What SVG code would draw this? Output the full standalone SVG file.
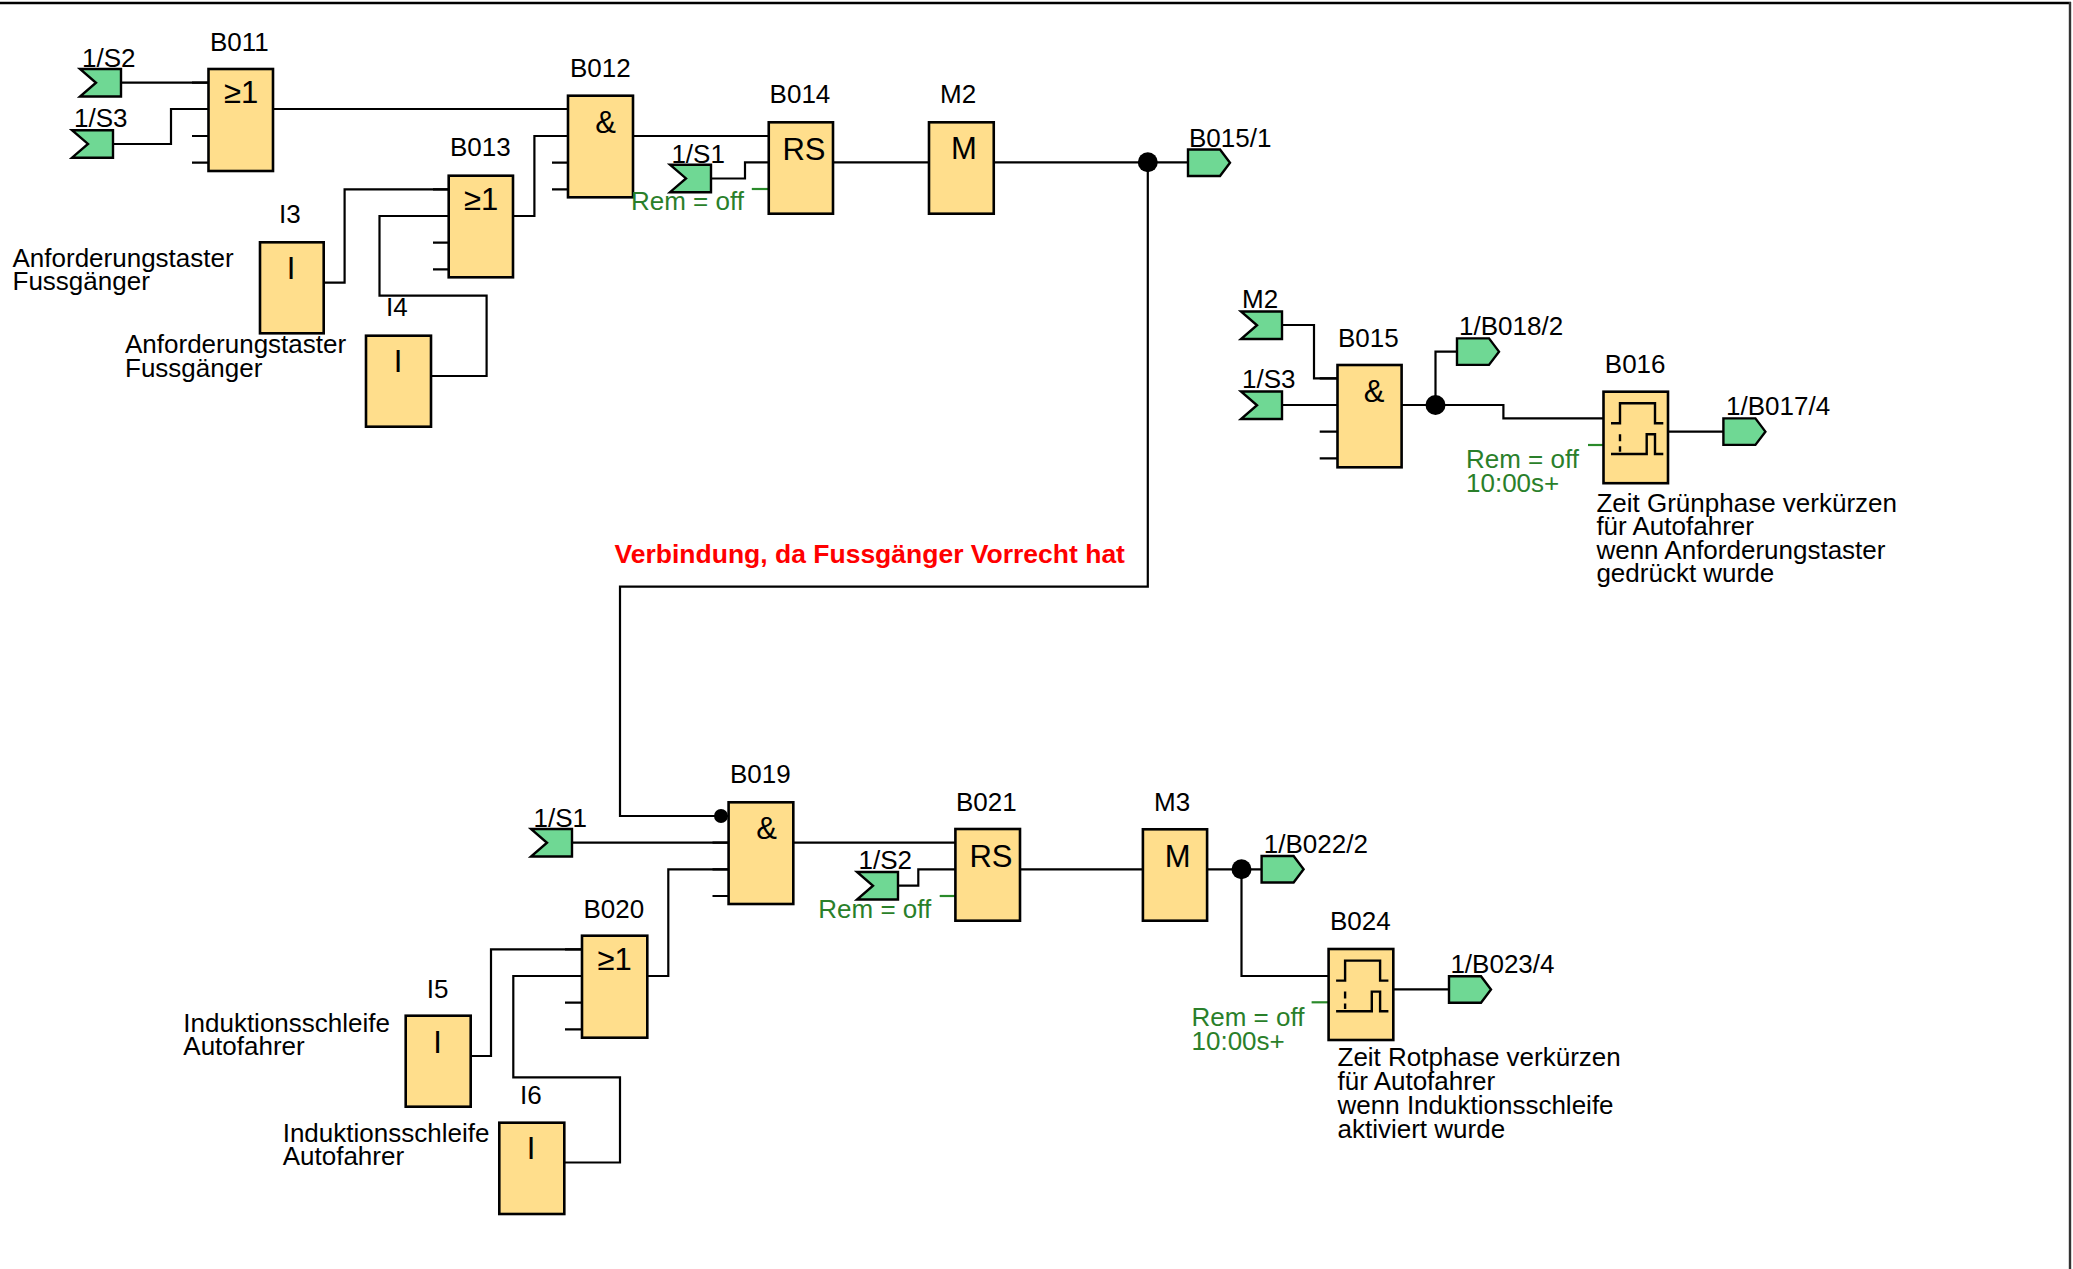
<svg xmlns="http://www.w3.org/2000/svg" xmlns:xlink="http://www.w3.org/1999/xlink" width="2073" height="1269" viewBox="0 0 2073 1269">
<style>
.box{fill:#FFDE8C;stroke:#000;stroke-width:2.6}
.flag{fill:#6FD894;stroke:#000;stroke-width:2.4}
.w{fill:none;stroke:#000;stroke-width:2.2}
.gp{fill:none;stroke:#2A8A2A;stroke-width:2.2}
.ts{fill:none;stroke:#000;stroke-width:2.4}
text{font-family:"Liberation Sans",Arial,Helvetica,sans-serif;font-size:26px;fill:#000}
.sym{font-size:31px}
.rem{fill:#2A7F2A}
.red{fill:#FF0000;font-weight:bold;font-size:26.5px}
</style>
<defs>
<path id="fin" class="flag" d="M0,0 H41 V27.5 H0 L16,13.75 Z"/>
<path id="fout" class="flag" d="M0,0 H32 L42,13.25 L32,26.5 H0 Z"/>
<g id="timer">
<path class="ts" d="M7.5,31.6 H16.5 V11.6 H51.5 V31.6 H59.8 M7.5,62.3 H43.2 V42.6 H51.5 V62.3 H59.8"/>
<path class="ts" d="M16.5,42.6 V60" stroke-dasharray="7,5"/>
</g>
</defs>
<rect width="2073" height="1269" fill="#fff"/>
<line x1="0" y1="3" x2="2071" y2="3" stroke="#000" stroke-width="2.6"/>
<line x1="2070" y1="2" x2="2070" y2="1269" stroke="#333" stroke-width="2.4"/>

<g id="connectors">
<path class="w" d="M121,82.7 H208.5"/>
<path class="w" d="M113,144 H171 V109 H208.5"/>
<path class="w" d="M273,109 H568"/>
<path class="w" d="M513,216 H534.4 V136 H568"/>
<path class="w" d="M323.7,282.7 H344.6 V189.3 H448.7"/>
<path class="w" d="M431,376 H486.6 V295.7 H379.5 V216 H448.7"/>
<path class="w" d="M633,136 H768.75"/>
<path class="w" d="M710.7,178.5 H745 V162.3 H768.75"/>
<path class="w" d="M833,162.3 H929"/>
<path class="w" d="M993.75,162.3 H1188"/>
<path class="w" d="M1147.8,162.3 V586.7 H620 V816 H728.6"/>
<path class="w" d="M1282,325 H1314 V378.3 H1337.5"/>
<path class="w" d="M1282,405 H1337.5"/>
<path class="w" d="M1401.6,405 H1503.4 V418.3 H1603.5"/>
<path class="w" d="M1435.5,405 V351.7 H1457"/>
<path class="w" d="M1668,431.7 H1723.4"/>
<path class="w" d="M572,842.7 H728.6"/>
<path class="w" d="M647.3,976 H668.3 V869.3 H728.6"/>
<path class="w" d="M470.7,1056 H491 V949.3 H582"/>
<path class="w" d="M564.3,1162.5 H620 V1077.3 H513.3 V976 H582"/>
<path class="w" d="M793.3,842.7 H955.4"/>
<path class="w" d="M897.3,885.7 H918.3 V869.3 H955.4"/>
<path class="w" d="M1020,869.3 H1142.9"/>
<path class="w" d="M1207.1,869.3 H1261.6"/>
<path class="w" d="M1241.5,869.3 V976 H1328.6"/>
<path class="w" d="M1393.3,989.3 H1449"/>
<circle cx="1147.8" cy="162.3" r="10" fill="#000"/>
<circle cx="1435.5" cy="405" r="10" fill="#000"/>
<circle cx="1241.5" cy="869.3" r="10" fill="#000"/>
<circle cx="721" cy="816" r="7" fill="#000"/>
</g>

<g id="in-1S2-top"><use xlink:href="#fin" x="80" y="69"/><text x="82" y="66.7">1/S2</text></g>
<g id="in-1S3-top"><use xlink:href="#fin" x="72" y="130.2"/><text x="74" y="127.3">1/S3</text></g>
<g id="in-1S1-top"><use xlink:href="#fin" x="670" y="164.7"/><text x="671.4" y="162.7">1/S1</text></g>
<g id="in-M2"><use xlink:href="#fin" x="1241" y="311.5"/><text x="1242" y="308.3">M2</text></g>
<g id="in-1S3-b015"><use xlink:href="#fin" x="1241" y="391.5"/><text x="1242" y="388.3">1/S3</text></g>
<g id="in-1S1-bottom"><use xlink:href="#fin" x="531" y="829"/><text x="533.5" y="826.7">1/S1</text></g>
<g id="in-1S2-bottom"><use xlink:href="#fin" x="857" y="872"/><text x="858.5" y="869.3">1/S2</text></g>

<g id="out-B015-1"><use xlink:href="#fout" x="1188" y="149.5"/><text x="1189" y="146.7">B015/1</text></g>
<g id="out-1B018-2"><use xlink:href="#fout" x="1457" y="338.4"/><text x="1459" y="335">1/B018/2</text></g>
<g id="out-1B017-4"><use xlink:href="#fout" x="1723.4" y="418.4"/><text x="1726" y="415">1/B017/4</text></g>
<g id="out-1B022-2"><use xlink:href="#fout" x="1261.6" y="856"/><text x="1263.8" y="852.7">1/B022/2</text></g>
<g id="out-1B023-4"><use xlink:href="#fout" x="1449" y="976.2"/><text x="1450.4" y="972.7">1/B023/4</text></g>

<g id="B011">
<path class="w" d="M192,82.7 H208.5 M192,109 H208.5 M192,136 H208.5 M192,162.7 H208.5"/>
<rect class="box" x="208.5" y="69" width="64.5" height="102"/>
<text x="210" y="50.7">B011</text>
<text class="sym" x="224" y="103">≥1</text>
</g>
<g id="B012">
<path class="w" d="M552,109 H568 M552,136 H568 M552,162.7 H568 M552,189.3 H568"/>
<rect class="box" x="568" y="95.7" width="65" height="101.6"/>
<text x="570" y="76.7">B012</text>
<text class="sym" x="605.5" y="133" text-anchor="middle">&amp;</text>
</g>
<g id="B013">
<path class="w" d="M433,189.3 H448.7 M433,216 H448.7 M433,242.7 H448.7 M433,269.3 H448.7"/>
<rect class="box" x="448.7" y="175.7" width="64.3" height="101.6"/>
<text x="450" y="156">B013</text>
<text class="sym" x="464" y="210">≥1</text>
</g>
<g id="I3">
<rect class="box" x="260" y="242.3" width="63.7" height="91"/>
<text x="279" y="223.3">I3</text>
<text class="sym" x="291" y="279" text-anchor="middle">I</text>
<text x="12.5" y="266.7">Anforderungstaster<tspan x="12.5" dy="23.3">Fussgänger</tspan></text>
</g>
<g id="I4">
<rect class="box" x="366" y="335.7" width="65" height="91"/>
<text x="386" y="316">I4</text>
<text class="sym" x="398" y="372" text-anchor="middle">I</text>
<text x="125" y="353.3">Anforderungstaster<tspan x="125" dy="24">Fussgänger</tspan></text>
</g>
<g id="B014">
<path class="gp" d="M751.8,189 H768.75"/>
<rect class="box" x="768.75" y="122.3" width="64.25" height="91.4"/>
<text x="769.6" y="103.3">B014</text>
<text class="sym" x="804" y="160" text-anchor="middle">RS</text>
<text class="rem" x="631" y="210">Rem = off</text>
</g>
<g id="M2">
<rect class="box" x="929" y="122.3" width="64.75" height="91.4"/>
<text x="940" y="103.3">M2</text>
<text class="sym" x="963.8" y="159.3" text-anchor="middle">M</text>
</g>
<g id="B015">
<path class="w" d="M1319.7,378.3 H1337.5 M1319.7,405 H1337.5 M1319.7,431.7 H1337.5 M1319.7,458.3 H1337.5"/>
<rect class="box" x="1337.5" y="365" width="64.1" height="102.3"/>
<text x="1338" y="346.7">B015</text>
<text class="sym" x="1374" y="402" text-anchor="middle">&amp;</text>
</g>
<g id="B016">
<path class="gp" d="M1588,445 H1603.5"/>
<rect class="box" x="1603.5" y="391.7" width="64.5" height="91.5"/>
<use xlink:href="#timer" x="1603.5" y="391.7"/>
<text x="1604.8" y="372.7">B016</text>
<text class="rem" x="1466" y="468.3">Rem = off<tspan x="1466" dy="23.4">10:00s+</tspan></text>
<text x="1596.4" y="511.7">Zeit Grünphase verkürzen<tspan x="1596.4" dy="23.4">für Autofahrer</tspan><tspan x="1596.4" dy="23.8">wenn Anforderungstaster</tspan><tspan x="1596.4" dy="23.4">gedrückt wurde</tspan></text>
</g>
<g id="note">
<text class="red" x="614.5" y="562.7">Verbindung, da Fussgänger Vorrecht hat</text>
</g>
<g id="B019">
<path class="w" d="M712.5,816 H728.6 M712.5,842.7 H728.6 M712.5,869.3 H728.6 M712.5,896 H728.6"/>
<rect class="box" x="728.6" y="802.3" width="64.7" height="101.7"/>
<text x="730" y="783.3">B019</text>
<text class="sym" x="766.5" y="839" text-anchor="middle">&amp;</text>
</g>
<g id="B020">
<path class="w" d="M565,949.3 H582 M565,976 H582 M565,1002.7 H582 M565,1029.3 H582"/>
<rect class="box" x="582" y="935.7" width="65.3" height="102"/>
<text x="583.5" y="917.7">B020</text>
<text class="sym" x="597.5" y="970">≥1</text>
</g>
<g id="I5">
<rect class="box" x="405.7" y="1015.7" width="65" height="91"/>
<text x="426.7" y="998.3">I5</text>
<text class="sym" x="437.5" y="1053.3" text-anchor="middle">I</text>
<text x="183.3" y="1031.7">Induktionsschleife<tspan x="183.3" dy="23.3">Autofahrer</tspan></text>
</g>
<g id="I6">
<rect class="box" x="499.3" y="1122.7" width="65" height="91.3"/>
<text x="520" y="1104">I6</text>
<text class="sym" x="531" y="1159.3" text-anchor="middle">I</text>
<text x="282.7" y="1141.7">Induktionsschleife<tspan x="282.7" dy="23.3">Autofahrer</tspan></text>
</g>
<g id="B021">
<path class="gp" d="M939.7,896 H955.4"/>
<rect class="box" x="955.4" y="829" width="64.6" height="91.7"/>
<text x="956" y="810.7">B021</text>
<text class="sym" x="991" y="866.7" text-anchor="middle">RS</text>
<text class="rem" x="818.3" y="917.7">Rem = off</text>
</g>
<g id="M3">
<rect class="box" x="1142.9" y="829.3" width="64.2" height="91.4"/>
<text x="1154" y="810.7">M3</text>
<text class="sym" x="1177.7" y="866.7" text-anchor="middle">M</text>
</g>
<g id="B024">
<path class="gp" d="M1311.6,1002.3 H1328.6"/>
<rect class="box" x="1328.6" y="949" width="64.7" height="91"/>
<use xlink:href="#timer" x="1328.6" y="949"/>
<text x="1330" y="930">B024</text>
<text class="rem" x="1191.5" y="1026">Rem = off<tspan x="1191.5" dy="24">10:00s+</tspan></text>
<text x="1337.5" y="1066">Zeit Rotphase verkürzen<tspan x="1337.5" dy="24">für Autofahrer</tspan><tspan x="1337.5" dy="24.3">wenn Induktionsschleife</tspan><tspan x="1337.5" dy="23.4">aktiviert wurde</tspan></text>
</g>
</svg>
